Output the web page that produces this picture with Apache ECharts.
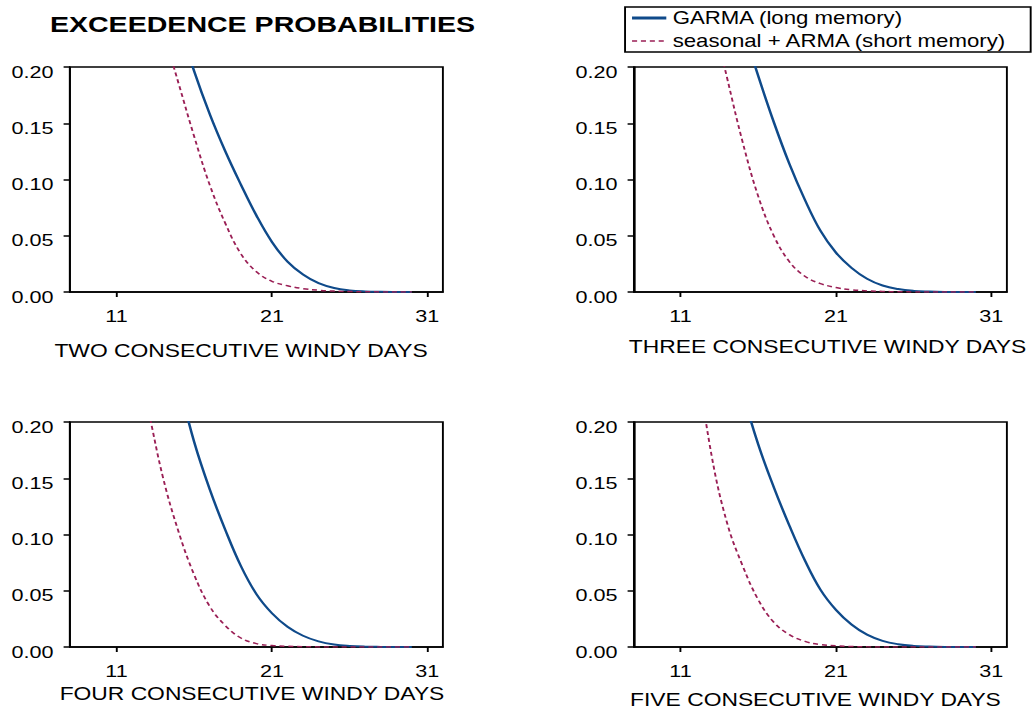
<!DOCTYPE html>
<html>
<head>
<meta charset="utf-8">
<script src="https://cdn.jsdelivr.net/npm/echarts@6/dist/echarts.min.js"></script>
<style>
  html, body { margin: 0; padding: 0; background: #fff; overflow: hidden; }
  /* the original figure is stretched sideways, so the whole chart is too */
  #chart { width: 813px; height: 711px; transform: scaleX(1.2694); transform-origin: 0 0; }
</style>
</head>
<body>
<div id="chart"></div>
<script>
// days on the x axis
const days = [12, 13, 14, 15, 16, 17, 18, 19, 20, 21, 22, 23, 24, 25, 26, 27, 28, 29, 30];

// exceedence probabilities (null = above the plotted range, not shown)
const garmaTwo   = [null, null, 0.29, 0.24, 0.196, 0.158, 0.125, 0.0955, 0.068, 0.0445, 0.027, 0.0155, 0.0078, 0.0035, 0.0014, 0.0005, 0.00015, 0.00004, 0];
const armaTwo    = [null, 0.28, 0.232, 0.185, 0.138, 0.095, 0.061, 0.034, 0.018, 0.0095, 0.0055, 0.003, 0.0016, 0.0008, 0.0004, 0.0002, 0.0001, 0.00005, 0];
const garmaThree = [null, null, 0.285, 0.236, 0.192, 0.151, 0.114, 0.082, 0.0545, 0.035, 0.0215, 0.0118, 0.0058, 0.0026, 0.001, 0.0004, 0.0001, 0.00003, 0];
const armaThree  = [0.32, 0.25, 0.19, 0.133, 0.085, 0.05, 0.027, 0.014, 0.0075, 0.004, 0.002, 0.001, 0.0005, 0.0002, 0.0001, 0.00005, 0.00002, 0.00001, 0];
const garmaFour  = [null, null, 0.29, 0.235, 0.182, 0.14, 0.104, 0.072, 0.047, 0.03, 0.018, 0.01, 0.005, 0.0022, 0.0009, 0.0003, 0.0001, 0.00003, 0];
const armaFour   = [0.27, 0.213, 0.15, 0.102, 0.064, 0.036, 0.019, 0.008, 0.003, 0.0013, 0.0006, 0.0003, 0.0001, 0.00005, 0.00002, 0.00001, 0, 0, 0];
const garmaFive  = [null, null, 0.28, 0.226, 0.18, 0.142, 0.108, 0.077, 0.051, 0.033, 0.02, 0.011, 0.0055, 0.0025, 0.001, 0.0004, 0.0001, 0.00003, 0];
const armaFive   = [0.26, 0.17, 0.11, 0.072, 0.042, 0.022, 0.011, 0.005, 0.0022, 0.001, 0.0004, 0.00015, 0.00005, 0.00002, 0, 0, 0, 0, 0];

const xTicks = [11, 21, 31];
const seriesNames = ['GARMA (long memory)', 'seasonal + ARMA (short memory)'];
const panelTitles = ['TWO CONSECUTIVE WINDY DAYS', 'THREE CONSECUTIVE WINDY DAYS',
                     'FOUR CONSECUTIVE WINDY DAYS', 'FIVE CONSECUTIVE WINDY DAYS'];
const garmaData = [garmaTwo, garmaThree, garmaFour, garmaFive];
const armaData = [armaTwo, armaThree, armaFour, armaFive];

const font = 'Liberation Sans, Arial, sans-serif';
const blue = '#0f4a8a';
const red = '#9a1f55';

// layout of the four panels (in the unstretched 813px frame)
const grids = [
  { left: 55.1, top: 67, width: 293.8, height: 225 },
  { left: 499.4, top: 67, width: 293.8, height: 225 },
  { left: 55.1, top: 422, width: 293.8, height: 225 },
  { left: 499.4, top: 422, width: 293.8, height: 225 }
];
const titlePos = [[189.9, 341], [651.9, 337], [198.5, 684], [642.4, 690]];

function pairs(ys) {
  return days.map((d, i) => [d, ys[i]]).filter(p => p[1] != null);
}

const axisLine = { show: true, lineStyle: { color: '#000', width: 1.5 } };

const option = {
  backgroundColor: '#fff',
  animation: false,
  title: [
    {
      text: 'EXCEEDENCE PROBABILITIES', left: 206.8, top: 13, textAlign: 'center', padding: 0,
      textStyle: { fontFamily: font, fontSize: 22.5, fontWeight: 'bold', color: '#000' }
    }
  ].concat(panelTitles.map((t, i) => ({
    text: t, left: titlePos[i][0], top: titlePos[i][1], textAlign: 'center', padding: 0,
    textStyle: { fontFamily: font, fontSize: 18, fontWeight: 'normal', color: '#000' }
  }))),
  legend: {
    data: [
      { name: seriesNames[0], lineStyle: { width: 3 } },
      { name: seriesNames[1], lineStyle: { width: 1.5 } }
    ],
    orient: 'vertical',
    left: 492.4,
    top: 7,
    padding: [2, 18, 2, 4],
    itemGap: 5,
    itemWidth: 27,
    itemHeight: 14,
    itemStyle: { opacity: 0 },
    borderColor: '#000',
    borderWidth: 1.5,
    textStyle: { fontFamily: font, fontSize: 17.5, color: '#000' }
  },
  grid: grids.map(g => Object.assign({ show: true, borderColor: '#000', borderWidth: 1.5 }, g)),
  xAxis: grids.map((g, i) => ({
    type: 'value', gridIndex: i, min: 8, max: 32,
    axisLine: axisLine,
    axisTick: { show: true, length: 5, customValues: xTicks, lineStyle: { color: '#000', width: 1.5 } },
    axisLabel: { customValues: xTicks, margin: 15, fontFamily: font, fontSize: 17, color: '#000' },
    splitLine: { show: false }
  })),
  yAxis: grids.map((g, i) => ({
    type: 'value', gridIndex: i, min: 0, max: 0.2, interval: 0.05,
    axisLine: axisLine,
    axisTick: { show: true, length: 5, lineStyle: { color: '#000', width: 1.5 } },
    axisLabel: {
      margin: 13, fontFamily: font, fontSize: 17, color: '#000',
      verticalAlign: 'top', lineHeight: 9,
      formatter: v => v.toFixed(2)
    },
    splitLine: { show: false }
  })),
  series: []
};

grids.forEach((g, i) => {
  option.series.push({
    name: seriesNames[0], type: 'line', xAxisIndex: i, yAxisIndex: i,
    data: pairs(garmaData[i]), symbol: 'none', smooth: 0.4, clip: true,
    lineStyle: { color: blue, width: 2 }, itemStyle: { color: blue }, z: 3
  });
  option.series.push({
    name: seriesNames[1], type: 'line', xAxisIndex: i, yAxisIndex: i,
    data: pairs(armaData[i]), symbol: 'none', smooth: 0.4, clip: true,
    lineStyle: { color: red, width: 1.5, type: [4, 3] }, itemStyle: { color: red }, z: 4
  });
});

const chart = echarts.init(document.getElementById('chart'), null, { renderer: 'svg' });
chart.setOption(option);
</script>
</body>
</html>
